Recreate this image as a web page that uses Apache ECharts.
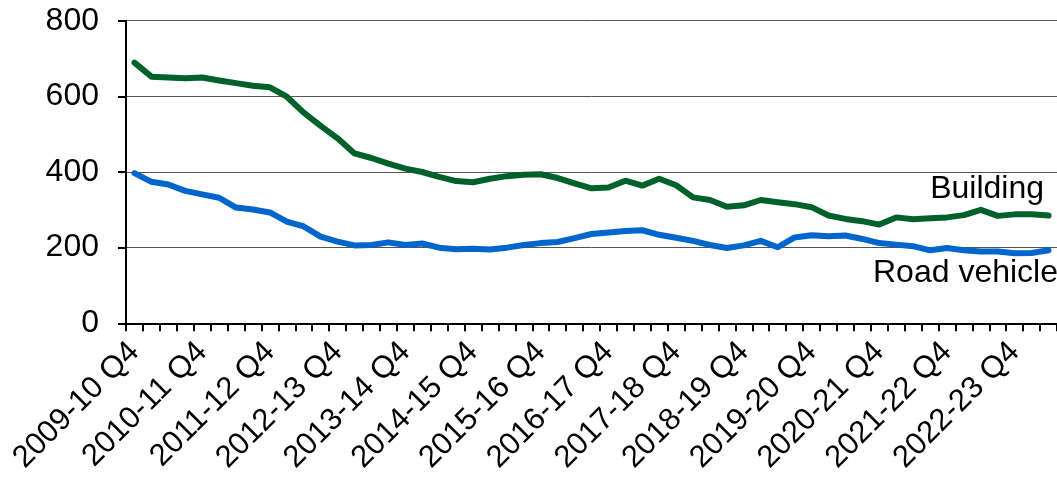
<!DOCTYPE html>
<html>
<head>
<meta charset="utf-8">
<script src="https://cdn.jsdelivr.net/npm/echarts@6/dist/echarts.min.js"></script>
<style>
html,body{margin:0;padding:0;background:#fff;}
#chart{width:1057px;height:486px;}
</style>
</head>
<body>
<div id="chart"></div>
<script>
// Quarter categories: 2009-10 Q4 through 2023-24 Q2
const categories = [];
categories.push('2009-10 Q4');
for (let y = 2010; y <= 2023; y++) {
  const fy = y + '-' + String((y + 1) % 100).padStart(2, '0');
  for (let q = 1; q <= 4; q++) {
    if (y === 2023 && q > 2) break;
    categories.push(fy + ' Q' + q);
  }
}

const building = [
  689, 652, 650, 648, 650, 642, 635, 628, 624, 599,
  557, 522, 489, 449, 437, 422, 409, 400, 387, 376,
  373, 382, 389, 393, 394, 384, 370, 357, 359, 377,
  364, 382, 365, 333, 326, 308, 312, 326, 320, 315,
  307, 285, 276, 270, 261, 280, 275, 278, 280, 286,
  300, 284, 288, 288, 285
];

const roadVehicle = [
  397, 374, 367, 350, 341, 332, 306, 301, 293, 269,
  256, 229, 216, 206, 207, 214, 207, 211, 200, 196,
  197, 195, 200, 207, 212, 215, 225, 236, 240, 244,
  246, 234, 226, 218, 207, 199, 206, 218, 201, 227,
  233, 230, 232, 223, 212, 208, 204, 193, 199, 193,
  190, 190, 185, 186, 193
];

const yTicks = { min: 0, max: 800, interval: 200 };

const chart = echarts.init(document.getElementById('chart'), null, { renderer: 'canvas' });
const FONT = 'Liberation Sans, Arial, sans-serif';

chart.setOption({
  animation: false,
  backgroundColor: '#ffffff',
  grid: { left: 126, top: 20.7, width: 937, height: 302.6, containLabel: false },
  xAxis: {
    type: 'category',
    data: categories,
    boundaryGap: true,
    axisLine: { show: true, lineStyle: { color: '#000', width: 2 } },
    axisTick: { show: true, interval: 0, length: 8, lineStyle: { color: '#000', width: 2 } },
    axisLabel: {
      interval: 3, rotate: 45, margin: 24,
      color: '#000', fontSize: 31, fontFamily: FONT
    },
    splitLine: { show: false }
  },
  yAxis: {
    type: 'value',
    min: yTicks.min, max: yTicks.max, interval: yTicks.interval,
    axisLine: { show: true, lineStyle: { color: '#000', width: 2 } },
    axisTick: { show: true, inside: false, length: 8, lineStyle: { color: '#000', width: 2 } },
    axisLabel: { margin: 27, color: '#000', fontSize: 32, fontFamily: FONT },
    splitLine: { show: true, lineStyle: { color: '#555', width: 1 } }
  },
  series: [
    {
      name: 'Building', type: 'line', data: building,
      symbol: 'none', smooth: false,
      lineStyle: { color: '#00612B', width: 6, cap: 'round', join: 'round' },
      itemStyle: { color: '#00612B' }
    },
    {
      name: 'Road vehicle', type: 'line', data: roadVehicle,
      symbol: 'none', smooth: false,
      lineStyle: { color: '#0066CC', width: 6, cap: 'round', join: 'round' },
      itemStyle: { color: '#0066CC' }
    }
  ],
  graphic: [
    { type: 'text', x: 1044, y: 189,
      style: { text: 'Building', fill: '#000', font: '32px ' + FONT, textAlign: 'right', textVerticalAlign: 'middle' } },
    { type: 'text', x: 873, y: 273,
      style: { text: 'Road vehicle', fill: '#000', font: '32px ' + FONT, textAlign: 'left', textVerticalAlign: 'middle' } }
  ]
});
</script>
</body>
</html>
